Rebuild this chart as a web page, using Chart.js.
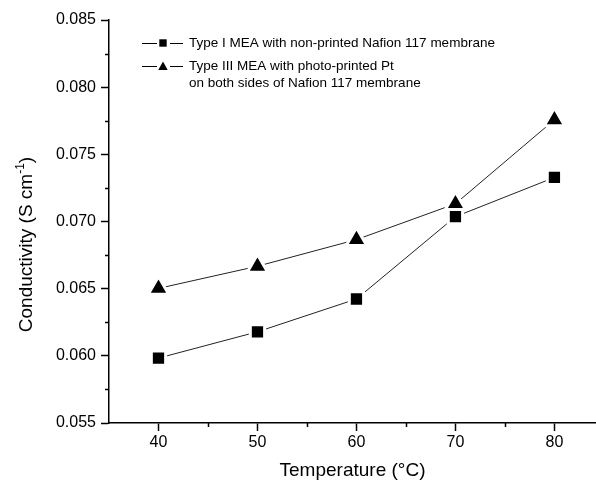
<!DOCTYPE html>
<html>
<head>
<meta charset="utf-8">
<script src="https://cdn.jsdelivr.net/npm/chart.js@4.4.0/dist/chart.umd.min.js"></script>
<style>
    html, body {margin: 0; padding: 0; background: #fff; overflow: hidden;}
    #wrap {position: absolute; left: 0; top: 0; width: 596px; height: 482px;}
</style>
</head>
<body>
<div id="wrap"><canvas id="chart"></canvas></div>
<script>
const temperatures = [40, 50, 60, 70, 80];
const typeI = [0.05983, 0.06179, 0.06423, 0.07036, 0.07328];
const typeIII = [0.06502, 0.06667, 0.06865, 0.07132, 0.07757];

const xTicks = [40, 50, 60, 70, 80];
const xMinorTicks = [45, 55, 65, 75];
const yTicks = [0.055, 0.060, 0.065, 0.070, 0.075, 0.080, 0.085];
const yMinorTicks = [0.0575, 0.0625, 0.0675, 0.0725, 0.0775, 0.0825];

const legendTypeI = ["Type I MEA with non-printed Nafion 117 membrane"];
const legendTypeIII = ["Type III MEA with photo-printed Pt", "on both sides of Nafion 117 membrane"];

const FONT = "'Liberation Sans', Arial, sans-serif";

// minor ticks, rotated y title with superscript, in-plot legend
const extrasPlugin = {
    id: "extras",
    afterDraw(chart) {
        const {ctx, chartArea, scales: {x, y}} = chart;
        ctx.save();

        // minor ticks (shorter, outward)
        ctx.strokeStyle = "#000";
        ctx.lineWidth = 1.5;
        ctx.beginPath();
        xMinorTicks.forEach((v) => {
            const px = Math.round(x.getPixelForValue(v)) + 0.5;
            ctx.moveTo(px, chartArea.bottom);
            ctx.lineTo(px, chartArea.bottom + 4);
        });
        yMinorTicks.forEach((v) => {
            const py = Math.round(y.getPixelForValue(v)) + 0.5;
            ctx.moveTo(chartArea.left, py);
            ctx.lineTo(chartArea.left - 4, py);
        });
        ctx.stroke();

        // y axis title
        ctx.save();
        ctx.translate(32, 244.5);
        ctx.rotate(-Math.PI / 2);
        ctx.fillStyle = "#000";
        ctx.textBaseline = "alphabetic";
        ctx.textAlign = "left";
        const main = "Conductivity (S cm";
        const sup = "-1";
        const close = ")";
        ctx.font = `19px ${FONT}`;
        const w1 = ctx.measureText(main).width;
        const w3 = ctx.measureText(close).width;
        ctx.font = `12px ${FONT}`;
        const w2 = ctx.measureText(sup).width;
        const sx = -(w1 + w2 + w3) / 2;
        ctx.font = `19px ${FONT}`;
        ctx.fillText(main, sx, 0);
        ctx.font = `12px ${FONT}`;
        ctx.fillText(sup, sx + w1, -8);
        ctx.font = `19px ${FONT}`;
        ctx.fillText(close, sx + w1 + w2, 0);
        ctx.restore();

        // legend
        ctx.strokeStyle = "#000";
        ctx.fillStyle = "#000";
        ctx.lineWidth = 1;
        [43, 66].forEach((ry) => {
            ctx.beginPath();
            ctx.moveTo(142, ry + 0.5);
            ctx.lineTo(157, ry + 0.5);
            ctx.moveTo(170, ry + 0.5);
            ctx.lineTo(183, ry + 0.5);
            ctx.stroke();
        });
        ctx.fillRect(159.3, 39.3, 7.4, 7.4);
        ctx.beginPath();
        ctx.moveTo(163, 61.5);
        ctx.lineTo(167.7, 70);
        ctx.lineTo(158.3, 70);
        ctx.closePath();
        ctx.fill();

        ctx.font = `13.5px ${FONT}`;
        ctx.textBaseline = "middle";
        ctx.textAlign = "left";
        ctx.fillText(legendTypeI[0], 189, 43.5);
        ctx.fillText(legendTypeIII[0], 189, 66.5);
        ctx.fillText(legendTypeIII[1], 189, 83.5);

        ctx.restore();
    },
};

const axisCommon = {
    grid: {
        drawOnChartArea: false,
        drawTicks: true,
        tickLength: 8,
        tickWidth: 1.5,
        tickColor: "#000",
    },
    border: {display: true, color: "#000", width: 1.5},
};

new Chart(document.getElementById("chart"), {
    type: "line",
    data: {
        datasets: [
            {
                label: legendTypeI.join(" "),
                data: temperatures.map((t, i) => ({x: t, y: typeI[i]})),
                borderColor: "#222",
                borderWidth: 1,
                pointStyle: "rect",
                pointRadius: 10.1,
                pointBackgroundColor: "#000",
                pointBorderColor: "#fff",
                pointBorderWidth: 3,
                tension: 0,
            },
            {
                label: legendTypeIII.join(" "),
                data: temperatures.map((t, i) => ({x: t, y: typeIII[i]})),
                borderColor: "#222",
                borderWidth: 1,
                pointStyle: "triangle",
                pointRadius: 11.8,
                pointBackgroundColor: "#000",
                pointBorderColor: "#fff",
                pointBorderWidth: 3,
                tension: 0,
            },
        ],
    },
    options: {
        responsive: true,
        maintainAspectRatio: false,
        animation: false,
        layout: {
            autoPadding: false,
            padding: {top: 20, left: 0, right: 0, bottom: 0},
        },
        plugins: {
            legend: {display: false},
            tooltip: {enabled: false},
        },
        scales: {
            x: {
                ...axisCommon,
                type: "linear",
                min: 35,
                max: 84.2,
                afterBuildTicks(scale) {
                    scale.ticks = xTicks.map((v) => ({value: v}));
                },
                afterFit(scale) {
                    scale.height = 59;
                    scale.paddingLeft = 0;
                    scale.paddingRight = 0;
                },
                ticks: {
                    color: "#000",
                    font: {family: FONT, size: 16},
                    padding: 2,
                    maxRotation: 0,
                    autoSkip: false,
                },
                title: {
                    display: true,
                    text: "Temperature (°C)",
                    color: "#000",
                    font: {family: FONT, size: 19},
                    padding: {top: 0, bottom: 0},
                },
            },
            y: {
                ...axisCommon,
                type: "linear",
                min: 0.055,
                max: 0.085,
                afterBuildTicks(scale) {
                    scale.ticks = yTicks.map((v) => ({value: v}));
                },
                afterFit(scale) {
                    scale.width = 109;
                    scale.paddingTop = 0;
                    scale.paddingBottom = 0;
                },
                ticks: {
                    color: "#000",
                    font: {family: FONT, size: 16},
                    padding: 5,
                    autoSkip: false,
                    callback: (v) => v.toFixed(3),
                },
            },
        },
    },
    plugins: [extrasPlugin],
});
</script>
</body>
</html>
